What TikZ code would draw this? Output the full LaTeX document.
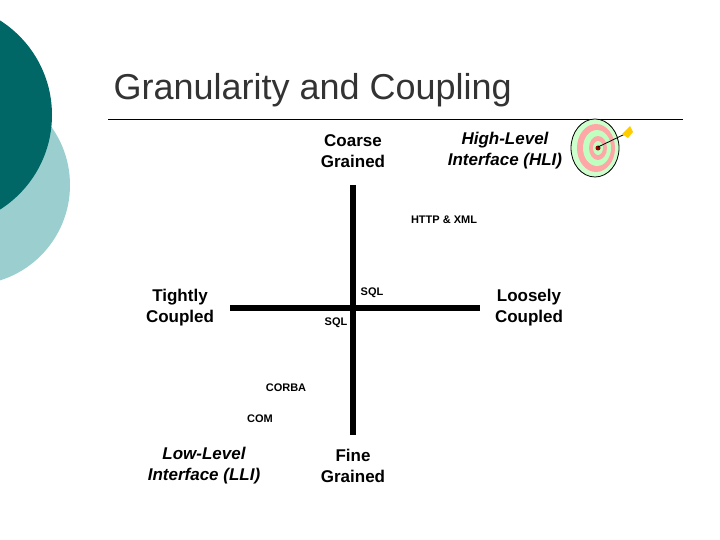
\documentclass[tikz,border=0pt]{standalone}
\usepackage{fontspec}
\setmainfont{Liberation Sans}
\begin{document}
\begin{tikzpicture}[x=1pt,y=-1pt,
 lab/.style={align=center,font=\fontsize{17}{21}\selectfont\bfseries},
 ilab/.style={lab,font=\fontsize{17}{21}\selectfont\bfseries\itshape},
 small/.style={font=\fontsize{11}{13}\selectfont\bfseries},
 axis/.style={line width=6pt}]
\useasboundingbox (0,0) rectangle (720,540);
\fill[white] (0,0) rectangle (720,540);
\begin{scope}
\clip (0,0) rectangle (720,540);
\fill[fill={rgb,255:red,155;green,207;blue,207}] (-30,185) circle (100);
\fill[fill={rgb,255:red,0;green,102;blue,102}] (-60,115) circle (112);
\end{scope}
\node[anchor=west,font=\fontsize{36}{40}\selectfont,text=black!80] (title) at (110,90) {Granularity and Coupling};
\draw[line width=1pt] (108,120) -- (683,120);
% target icon
\begin{scope}[shift={(595,148)}]
\fill[green!20!white,draw=black,line width=0.8pt] (0,0) ellipse (24 and 29);
\fill[red!35!white] (1,0) ellipse (19 and 24);
\fill[green!25!white] (2,0) ellipse (14 and 18);
\fill[red!35!white] (3,0) ellipse (9 and 12);
\fill[green!25!white] (3,0) ellipse (5 and 7);
\fill[red!60!black] (3,0) circle (2.5);
\draw[line width=0.8pt] (3,-1) -- (30,-14);
\fill[orange!40!yellow] (27,-14) -- (35,-22) -- (38,-16) -- (33,-10) -- cycle;
\end{scope}
\coordinate (vt) at (353,185);
\coordinate (vb) at (353,435);
\coordinate (hl) at (230,308);
\coordinate (hr) at (480,308);
\draw[axis] (vt) -- (vb);
\draw[axis] (hl) -- (hr);
\node[lab] (cg) at (353,151) {Coarse\\Grained};
\node[ilab] (hli) at (505,151) {High-Level\\Interface (HLI)};
\node[small] (http) at (444,220) {HTTP \& XML};
\node[small] (sql1) at (372,293) {SQL};
\node[small] (sql2) at (336,323) {SQL};
\node[lab] (tc) at (180,308) {Tightly\\Coupled};
\node[lab] (lc) at (529,308) {Loosely\\Coupled};
\node[small] (corba) at (286,388) {CORBA};
\node[small] (com) at (260,419) {COM};
\node[ilab] (lli) at (204,466) {Low-Level\\Interface (LLI)};
\node[lab] (fg) at (353,466) {Fine\\Grained};
\end{tikzpicture}
\end{document}
